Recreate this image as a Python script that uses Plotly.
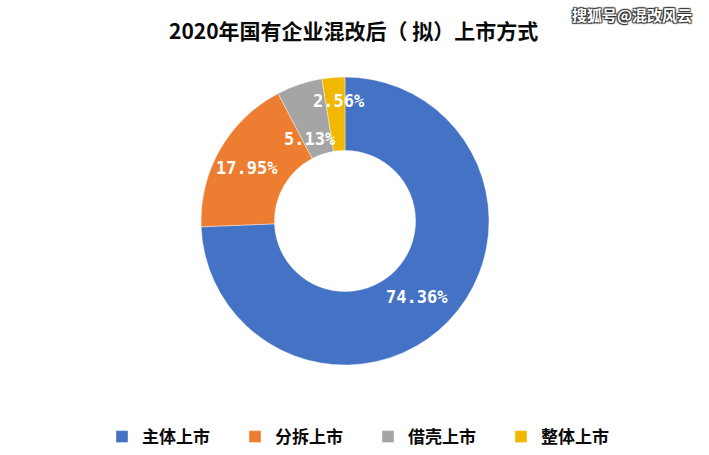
import numpy as np
import plotly.graph_objects as go

# 2020 listing routes of SOEs after mixed-ownership reform (count of companies)
labels = ["主体上市", "分拆上市", "借壳上市", "整体上市"]
counts = [29, 7, 2, 1]

colors = ["#4472C4", "#ED7D31", "#A5A5A5", "#F2B800"]
# pixel nudges for the data labels (Excel pushes the two small ones apart)
label_shift = [(-5, -2), (-5, -1), (-1, -20), (3, 13)]

W, H = 709, 455
cx, cy, r_out = 345, 221, 144
hole = 0.49
FONT = "Noto Sans CJK SC"


def px(x):
    return x / W


def py(y):
    return 1 - y / H


fig = go.Figure()
fig.add_trace(
    go.Pie(
        labels=labels,
        values=counts,
        hole=hole,
        sort=False,
        direction="clockwise",
        rotation=0,
        marker=dict(colors=colors, line=dict(color="rgba(255,255,255,0.5)", width=0.8)),
        textinfo="none",
        hoverinfo="label+percent",
        domain=dict(
            x=[px(cx - r_out), px(cx + r_out)],
            y=[py(cy + r_out), py(cy - r_out)],
        ),
    )
)

# ── data labels at mid-ring of each slice ───────────────────────────────────
total = sum(counts)
cum = np.cumsum([0] + counts[:-1])
r_mid = r_out * (1 + hole) / 2
for i, c in enumerate(counts):
    theta = 2 * np.pi * (cum[i] + c / 2) / total
    fig.add_annotation(
        x=px(cx + r_mid * np.sin(theta)), y=py(cy - r_mid * np.cos(theta)),
        xref="paper", yref="paper", xanchor="center", yanchor="middle",
        text=f"{c / total:.2%}",
        showarrow=False,
        xshift=label_shift[i][0], yshift=label_shift[i][1],
        font=dict(family="DejaVu Sans Mono", size=17, color="white", weight="bold"),
    )

# ── title & watermark ───────────────────────────────────────────────────────
fig.add_annotation(
    x=px(353), y=py(30), xref="paper", yref="paper",
    xanchor="center", yanchor="middle",
    text="2020年国有企业混改后（ 拟）上市方式",
    showarrow=False,
    font=dict(family=FONT, size=21, color="#0a0a0a", weight="bold"),
)
fig.add_annotation(
    x=px(632), y=py(15), xref="paper", yref="paper",
    xanchor="center", yanchor="middle",
    text="搜狐号@混改风云",
    showarrow=False,
    font=dict(family=FONT, size=15, color="white", weight="bold",
              shadow="1px 1px 1px #333, -1px -1px 1px #333, 1px -1px 1px #333, -1px 1px 1px #333"),
)

fig.update_layout(
    width=W,
    height=H,
    margin=dict(l=0, r=0, t=0, b=0),
    paper_bgcolor="white",
    plot_bgcolor="white",
    showlegend=True,
    legend=dict(
        orientation="h",
        x=px(102), xanchor="left",
        y=py(437), yanchor="middle",
        entrywidth=88,
        font=dict(family=FONT, size=17, color="#0a0a0a", weight="bold"),
    ),
)

fig.write_html(
    "out.html",
    config={"displayModeBar": False},
    post_script="document.body.style.margin='0';",
)
